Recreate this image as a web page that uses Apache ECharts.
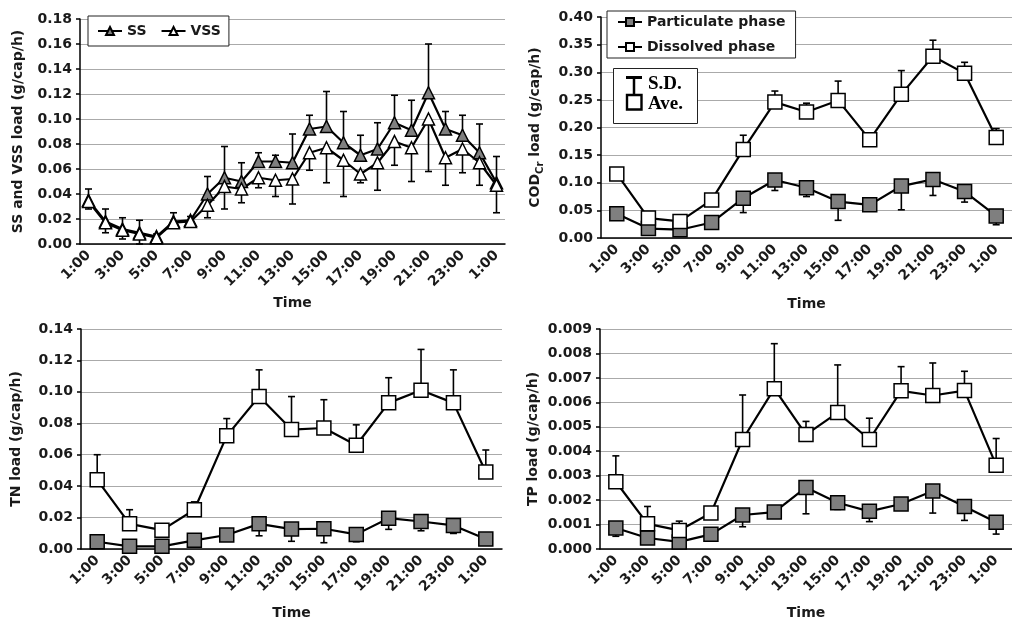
<!DOCTYPE html>
<html><head><meta charset="utf-8">
<script src="https://cdn.jsdelivr.net/npm/echarts@6/dist/echarts.min.js"></script>
<style>html,body{margin:0;padding:0;background:#fff}#c{width:1012px;height:621px}</style>
</head><body><div id="c"></div>
<script>
// ---- categories / tick labels ----
const hours25 = ['1:00','2:00','3:00','4:00','5:00','6:00','7:00','8:00','9:00','10:00','11:00','12:00','13:00','14:00','15:00','16:00','17:00','18:00','19:00','20:00','21:00','22:00','23:00','0:00','1:00'];
const hours13 = ['1:00','3:00','5:00','7:00','9:00','11:00','13:00','15:00','17:00','19:00','21:00','23:00','1:00'];

// ---- panel 1: SS / VSS ----
const ss     = [0.035,0.018,0.012,0.009,0.006,0.018,0.019,0.040,0.053,0.050,0.066,0.066,0.065,0.092,0.094,0.081,0.071,0.076,0.097,0.091,0.121,0.092,0.087,0.073,0.049];
const ssTop  = [0.044,0.028,0.021,0.019,0.008,0.025,0.022,0.054,0.078,0.065,0.073,0.071,0.088,0.103,0.122,0.106,0.087,0.097,0.119,0.115,0.160,0.106,0.103,0.096,0.070];
const vss    = [0.034,0.017,0.011,0.008,0.005,0.017,0.018,0.031,0.046,0.044,0.053,0.051,0.052,0.073,0.077,0.067,0.056,0.065,0.082,0.077,0.100,0.069,0.076,0.065,0.047];
const vssBot = [0.028,0.009,0.004,0.000,0.004,0.014,0.016,0.021,0.028,0.033,0.045,0.038,0.032,0.059,0.049,0.038,0.049,0.043,0.063,0.050,0.058,0.047,0.057,0.047,0.025];

// ---- panel 2: COD ----
const codDis    = [0.116,0.036,0.030,0.069,0.160,0.246,0.228,0.249,0.178,0.260,0.329,0.298,0.182];
const codDisTop = [null,null,null,null,0.186,0.266,0.244,0.284,null,0.303,0.358,0.318,0.198];
const codPar    = [0.044,0.017,0.015,0.028,0.072,0.105,0.091,0.066,0.060,0.094,0.106,0.084,0.040];
const codParBot = [null,null,null,null,0.046,0.086,0.075,0.032,null,0.051,0.077,0.065,0.024];

// ---- panel 3: TN ----
const tnDis    = [0.044,0.016,0.012,0.025,0.072,0.097,0.076,0.077,0.066,0.093,0.101,0.093,0.049];
const tnDisTop = [0.060,0.025,null,0.030,0.083,0.114,0.097,0.095,0.079,0.109,0.127,0.114,0.063];
const tnPar    = [0.0046,0.0017,0.0017,0.0055,0.0089,0.016,0.0127,0.0129,0.0093,0.0196,0.0175,0.015,0.0063];
const tnParBot = [null,null,null,null,null,0.0084,0.0049,0.004,0.0046,0.0125,0.0116,0.0099,null];

// ---- panel 4: TP ----
const tpDis    = [0.00275,0.00103,0.00076,0.00147,0.00448,0.00656,0.00468,0.00558,0.00448,0.00647,0.00628,0.00648,0.00343];
const tpDisTop = [0.00381,0.00174,0.00114,0.0017,0.0063,0.0084,0.00522,0.00753,0.00535,0.00746,0.00761,0.00727,0.00452];
const tpPar    = [0.00086,0.00045,0.00029,0.0006,0.00139,0.00151,0.00252,0.00189,0.00154,0.00184,0.00237,0.00174,0.00109];
const tpParBot = [0.00052,null,null,null,0.00091,null,0.00144,0.00162,0.00112,null,0.00147,0.00117,0.00061];

const FONT = 'DejaVu Sans';
const TXT = {fontFamily: FONT, fontWeight: 'bold', fontSize: 14, color: '#1a1a1a'};

function xAxis(gi, cats, labelInterval, gap) {
  return {
    type: 'category', gridIndex: gi, data: cats, boundaryGap: true,
    axisLine: {lineStyle: {color: '#000', width: 1.5}},
    axisTick: {interval: 0, length: 5, lineStyle: {color: '#000', width: 1.5}},
    axisLabel: Object.assign({}, TXT, {interval: labelInterval, rotate: 45, margin: 9}),
    splitLine: {show: false},
    name: 'Time', nameLocation: 'middle', nameGap: gap,
    nameTextStyle: Object.assign({}, TXT, {fontSize: 14})
  };
}
function yAxis(gi, max, interval, dec, name, gap, rich) {
  const ax = {
    type: 'value', gridIndex: gi, min: 0, max: max, interval: interval,
    axisLine: {show: true, lineStyle: {color: '#000', width: 1.5}},
    axisTick: {show: true, length: 4, lineStyle: {color: '#000', width: 1.5}},
    axisLabel: Object.assign({}, TXT, {margin: 8, formatter: v => v.toFixed(dec)}),
    splitLine: {show: true, lineStyle: {color: '#aaaaaa', width: 1.2}},
    name: name, nameLocation: 'middle', nameRotate: 90, nameGap: gap,
    nameTextStyle: Object.assign({}, TXT, {fontSize: 14})
  };
  if (rich) ax.nameTextStyle.rich = rich;
  return ax;
}
function lineSeries(name, gi, data, symbol, fill, size) {
  return {
    name: name, type: 'line', xAxisIndex: gi, yAxisIndex: gi, data: data,
    symbol: symbol, symbolSize: size, showAllSymbol: true,
    lineStyle: {color: '#000', width: 2.2},
    itemStyle: {color: fill, borderColor: '#000', borderWidth: 1.5},
    z: 3, animation: false
  };
}
function errSeries(gi, vals, ends) {
  const data = [];
  vals.forEach((v, i) => { if (ends[i] != null) data.push([i, v, ends[i]]); });
  return {
    type: 'custom', xAxisIndex: gi, yAxisIndex: gi, data: data, z: 1, silent: true,
    clip: false, animation: false,
    renderItem: function (params, api) {
      const p0 = api.coord([api.value(0), api.value(1)]);
      const p1 = api.coord([api.value(0), api.value(2)]);
      const st = {stroke: '#000', lineWidth: 1.6};
      return {type: 'group', children: [
        {type: 'line', shape: {x1: p0[0], y1: p0[1], x2: p1[0], y2: p1[1]}, style: st},
        {type: 'line', shape: {x1: p1[0] - 3.5, y1: p1[1], x2: p1[0] + 3.5, y2: p1[1]}, style: st}
      ]};
    }
  };
}

const GRAY = '#7f7f7f';
const LEGTXT = Object.assign({}, TXT, {fontSize: 14, lineHeight: 18});
const option = {
  backgroundColor: '#fff',
  animation: false,
  grid: [
    {left: 80, top: 19, width: 425, height: 225},
    {left: 601, top: 17, width: 416, height: 221},
    {left: 81, top: 329, width: 421, height: 221},
    {left: 600, top: 329, width: 417, height: 220}
  ],
  xAxis: [
    xAxis(0, hours25, 1, 52),
    xAxis(1, hours13, 0, 59),
    xAxis(2, hours13, 0, 57),
    xAxis(3, hours13, 0, 57)
  ],
  yAxis: [
    yAxis(0, 0.18, 0.02, 2, 'SS and VSS load (g/cap/h)', 55),
    yAxis(1, 0.40, 0.05, 2, '{a|COD}{s|Cr}{a| load (g/cap/h)}', 59, {
      a: {fontFamily: FONT, fontWeight: 'bold', fontSize: 14, color: '#1a1a1a', lineHeight: 18, verticalAlign: 'bottom'},
      s: {fontFamily: FONT, fontWeight: 'bold', fontSize: 10, color: '#1a1a1a', lineHeight: 18, verticalAlign: 'bottom', padding: [0, 0, -3, 0]}
    }),
    yAxis(2, 0.14, 0.02, 2, 'TN load (g/cap/h)', 58),
    yAxis(3, 0.009, 0.001, 3, 'TP load (g/cap/h)', 60)
  ],
  legend: [
    {left: 88, top: 16, orient: 'horizontal', data: ['SS', 'VSS'],
     backgroundColor: '#fff', borderColor: '#222', borderWidth: 1, borderRadius: 0,
     padding: [6, 8, 6, 9], itemGap: 14, itemWidth: 24, itemHeight: 10,
     textStyle: LEGTXT, selectedMode: false},
    {left: 607, top: 11, orient: 'vertical', data: ['Particulate phase', 'Dissolved phase'],
     backgroundColor: '#fff', borderColor: '#222', borderWidth: 1, borderRadius: 0,
     padding: [2, 10, 2, 10], itemGap: 7, itemWidth: 24, itemHeight: 10,
     textStyle: LEGTXT, selectedMode: false}
  ],
  graphic: [
    {type: 'rect', z: 100, shape: {x: 613.5, y: 68.5, width: 84, height: 55},
     style: {fill: '#fff', stroke: '#222', lineWidth: 1}},
    {type: 'line', z: 101, shape: {x1: 626, y1: 77.5, x2: 642, y2: 77.5}, style: {stroke: '#000', lineWidth: 3}},
    {type: 'line', z: 101, shape: {x1: 634, y1: 77.5, x2: 634, y2: 94}, style: {stroke: '#000', lineWidth: 2.5}},
    {type: 'rect', z: 101, shape: {x: 627, y: 95, width: 14.5, height: 14.5}, style: {fill: '#fff', stroke: '#000', lineWidth: 2.4}},
    {type: 'text', z: 101, x: 648, y: 84, style: {text: 'S.D.', fontFamily: 'Liberation Serif', fontWeight: 'bold', fontSize: 19, fill: '#000', verticalAlign: 'middle'}},
    {type: 'text', z: 101, x: 648, y: 104, style: {text: 'Ave.', fontFamily: 'Liberation Serif', fontWeight: 'bold', fontSize: 19, fill: '#000', verticalAlign: 'middle'}}
  ],
  series: [
    errSeries(0, ss, ssTop),
    errSeries(0, vss, vssBot),
    lineSeries('SS', 0, ss, 'triangle', GRAY, 12),
    lineSeries('VSS', 0, vss, 'triangle', '#fff', 12),

    errSeries(1, codDis, codDisTop),
    errSeries(1, codPar, codParBot),
    lineSeries('Particulate phase', 1, codPar, 'rect', GRAY, 14),
    lineSeries('Dissolved phase', 1, codDis, 'rect', '#fff', 14),

    errSeries(2, tnDis, tnDisTop),
    errSeries(2, tnPar, tnParBot),
    lineSeries('Particulate phase', 2, tnPar, 'rect', GRAY, 14),
    lineSeries('Dissolved phase', 2, tnDis, 'rect', '#fff', 14),

    errSeries(3, tpDis, tpDisTop),
    errSeries(3, tpPar, tpParBot),
    lineSeries('Particulate phase', 3, tpPar, 'rect', GRAY, 14),
    lineSeries('Dissolved phase', 3, tpDis, 'rect', '#fff', 14)
  ]
};
const chart = echarts.init(document.getElementById('c'), null, {renderer: 'canvas'});
chart.setOption(option);
</script></body></html>
